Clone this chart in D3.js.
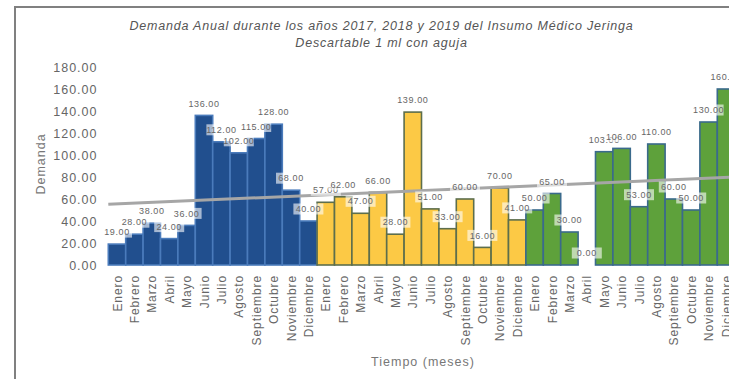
<!DOCTYPE html>
<html>
<head>
<meta charset="utf-8">
<script src="https://cdn.jsdelivr.net/npm/d3@7"></script>
<style>
body { margin: 0; background: #fff; }
svg { display: block; font-family: "Liberation Sans", Arial, sans-serif; }
</style>
</head>
<body>
<svg id="chart" width="729" height="379"></svg>
<script>
var months = ["Enero", "Febrero", "Marzo", "Abril", "Mayo", "Junio", "Julio", "Agosto", "Septiembre", "Octubre", "Noviembre", "Diciembre"];
var years = ["2017", "2018", "2019"];
var demand2017 = [19, 28, 38, 24, 36, 136, 112, 102, 115, 128, 68, 40];
var demand2018 = [57, 62, 47, 66, 28, 139, 51, 33, 60, 16, 70, 41];
var demand2019 = [50, 65, 30, 0, 103, 106, 53, 110, 60, 50, 130, 160];
var yTicks = [0, 20, 40, 60, 80, 100, 120, 140, 160, 180];

var yearFill = { "2017": "#214f8e", "2018": "#fcc945", "2019": "#5ea13b" };
var yearStroke = { "2017": "#4a7bbb", "2018": "#5d6e4c", "2019": "#3a6a8c" };

var series = [demand2017, demand2018, demand2019];
var data = [];
years.forEach(function(yr, j) {
    months.forEach(function(m, i) {
        data.push({ key: yr + "-" + m, month: m, year: yr, value: series[j][i], idx: j * 12 + i });
    });
});

var svg = d3.select("#chart");

// frame of the pasted chart
svg.append("line").attr("x1", 15).attr("y1", 7).attr("x2", 729).attr("y2", 7)
    .attr("stroke", "#808080").attr("stroke-width", 2);
svg.append("line").attr("x1", 15).attr("y1", 6).attr("x2", 15).attr("y2", 379)
    .attr("stroke", "#808080").attr("stroke-width", 2);

var x = d3.scaleBand().domain(data.map(d => d.key)).range([108.3, 734.7]).padding(0);
var y = d3.scaleLinear().domain([0, 180]).range([265, 67]);

// title
var title = svg.append("text").attr("text-anchor", "middle")
    .attr("fill", "#555").style("font-style", "italic").style("font-size", "12.5px")
    .style("letter-spacing", "0.8px");
title.append("tspan").attr("x", 381.5).attr("y", 30)
    .text("Demanda Anual durante los años 2017, 2018 y 2019 del Insumo Médico Jeringa");
title.append("tspan").attr("x", 381.5).attr("y", 47)
    .text("Descartable 1 ml con aguja");

// y axis (labels only)
var yAxis = svg.append("g").attr("transform", "translate(97.5,0)")
    .call(d3.axisLeft(y).tickValues(yTicks).tickSize(0).tickPadding(0).tickFormat(d3.format(".2f")));
yAxis.select(".domain").remove();
yAxis.selectAll("text").attr("fill", "#666").style("font-size", "12.5px")
    .style("letter-spacing", "1px").style("font-family", "Liberation Sans, Arial, sans-serif");

svg.append("text").attr("transform", "translate(45,164) rotate(-90)")
    .attr("text-anchor", "middle").attr("fill", "#777")
    .style("font-size", "12.5px").style("letter-spacing", "1px").text("Demanda");

// bars
svg.append("g").selectAll("rect").data(data).enter().append("rect")
    .attr("x", d => x(d.key))
    .attr("y", d => y(d.value))
    .attr("width", x.bandwidth())
    .attr("height", d => y(0) - y(d.value))
    .attr("fill", d => yearFill[d.year])
    .attr("stroke", d => yearStroke[d.year])
    .attr("stroke-width", 1.6);

// linear trend over all 36 months
var n = data.length;
var mx = d3.mean(data, d => d.idx), my = d3.mean(data, d => d.value);
var slope = d3.sum(data, d => (d.idx - mx) * (d.value - my)) / d3.sum(data, d => (d.idx - mx) * (d.idx - mx));
var icpt = my - slope * mx;
var xi = d3.scaleLinear().domain([-0.5, n - 0.5]).range(x.range());
var trend = [-0.5, n - 0.5].map(t => [xi(t), y(icpt + slope * t)]);
svg.append("path").attr("d", d3.line()(trend))
    .attr("stroke", "#a6a6a6").attr("stroke-width", 3).attr("fill", "none");

// data labels
var lbl = svg.append("g").selectAll("g").data(data).enter().append("g")
    .attr("transform", d => "translate(" + (x(d.key) + x.bandwidth() / 2) + "," + (y(d.value) - 12) + ")");
lbl.append("rect").attr("x", -15).attr("y", -5.5).attr("width", 30).attr("height", 11)
    .attr("fill", "#fff").attr("opacity", 0.6);
lbl.append("text").attr("text-anchor", "middle").attr("dy", "0.35em")
    .attr("fill", "#666").style("font-size", "9px").style("letter-spacing", "0.6px")
    .text(d => d3.format(".2f")(d.value));

// month labels
svg.append("g").selectAll("text").data(data).enter().append("text")
    .attr("transform", d => "translate(" + (x(d.key) + x.bandwidth() / 2 + 4.5) + ",275) rotate(-90)")
    .attr("text-anchor", "end").attr("fill", "#666")
    .style("font-size", "12px").style("letter-spacing", "0.9px")
    .text(d => d.month);

svg.append("text").attr("x", 423).attr("y", 366).attr("text-anchor", "middle")
    .attr("fill", "#777").style("font-size", "12.5px").style("letter-spacing", "1px")
    .text("Tiempo (meses)");
</script>
</body>
</html>
